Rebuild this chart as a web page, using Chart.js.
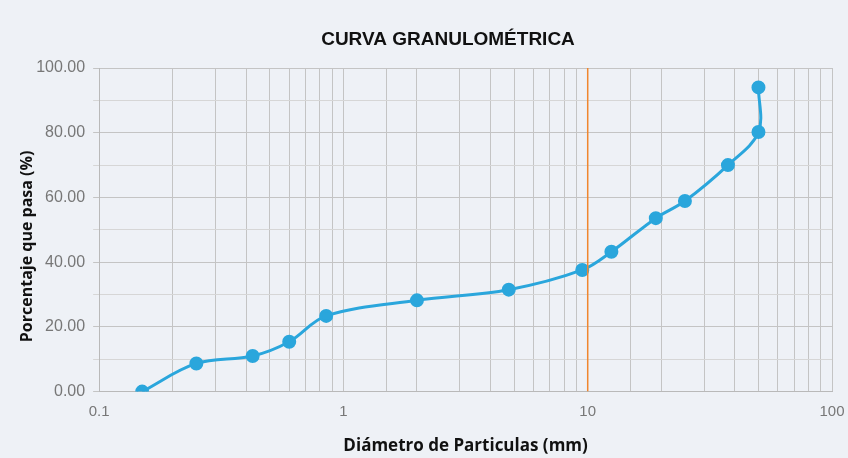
<!DOCTYPE html>
<html>
<head>
<meta charset="utf-8">
<script src="https://cdn.jsdelivr.net/npm/chart.js@4.4.1/dist/chart.umd.min.js"></script>
<style>
  html, body { margin: 0; padding: 0; background: #eef1f6; }
  #wrap { width: 848px; height: 458px; }
</style>
</head>
<body>
<div id="wrap"><canvas id="granChart" width="848" height="458"></canvas></div>
<script>
// sieve openings (mm) and percent passing
const diameters = [0.15, 0.25, 0.425, 0.6, 0.85, 2.0, 4.75, 9.5, 12.5, 19.0, 25.0, 37.5, 50.0, 50.0];
const passing   = [0.0, 8.7, 11.0, 15.4, 23.4, 28.2, 31.5, 37.6, 43.2, 53.6, 58.9, 70.0, 80.2, 94.0];
const markerLine = [10, 10];        // vertical reference at 10 mm
const markerY = [0, 100];
const chartTitle = 'CURVA GRANULOMÉTRICA';

const blue = '#2aa6dc';
const orange = '#f0862e';

const curve = diameters.map((d, i) => ({ x: d, y: passing[i] }));
const marker = markerLine.map((d, i) => ({ x: d, y: markerY[i] }));

// title sits a bit left of the plot centre in the original, draw it ourselves
const titlePlugin = {
  id: 'titleText',
  afterDraw(chart) {
    const c = chart.ctx;
    c.save();
    c.font = 'bold 19px "Liberation Sans"';
    c.fillStyle = '#111';
    c.textAlign = 'center';
    c.textBaseline = 'middle';
    c.fillText(chartTitle, 448, 40);
    c.restore();
  }
};

const ctx = document.getElementById('granChart').getContext('2d');
new Chart(ctx, {
  type: 'line',
  data: {
    datasets: [
      { label: 'marker', data: marker, borderColor: orange, borderWidth: 1.5, pointRadius: 0, tension: 0 },
      { label: 'curva', data: curve, borderColor: blue, backgroundColor: blue, borderWidth: 3,
        pointRadius: 5.5, pointBackgroundColor: blue, pointBorderColor: blue, tension: 0.35, fill: false }
    ]
  },
  plugins: [titlePlugin],
  options: {
    responsive: false,
    animation: false,
    layout: { padding: { left: 14, right: 0, top: 68, bottom: 0 } },
    plugins: {
      legend: { display: false },
      tooltip: { enabled: false },
      title: { display: false }
    },
    scales: {
      x: {
        type: 'logarithmic', min: 0.1, max: 100,
        afterFit: s => { s.paddingRight = 16; },
        border: { color: '#b9b9b9' },
        grid: { color: '#c4c4c4', lineWidth: 1, drawTicks: false },
        ticks: {
          autoSkip: false, maxRotation: 0, color: '#777', padding: 11,
          font: { family: 'Liberation Sans', size: 15 },
          callback: function (v) {
            const l = Math.log10(v);
            return Math.abs(l - Math.round(l)) < 1e-9 ? String(v) : '';
          }
        },
        title: { display: true, text: 'Diámetro de Particulas (mm)', color: '#111',
          font: { family: 'Open Sans', size: 17, weight: 'bold' }, padding: { top: 4, bottom: 2 } }
      },
      y: {
        min: 0, max: 100,
        border: { color: '#b9b9b9' },
        grid: { color: ctx => (ctx.tick && ctx.tick.value % 20 === 0) ? '#c4c4c4' : '#d6d6d6', drawTicks: true, tickLength: 6 },
        ticks: {
          stepSize: 10, color: '#777', padding: 8,
          font: { family: 'Liberation Sans', size: 16 },
          callback: v => v % 20 === 0 ? v.toFixed(2) : ''
        },
        title: { display: true, text: 'Porcentaje que pasa (%)        ', color: '#111',
          font: { family: 'Open Sans', size: 16, weight: 'bold' }, padding: { top: 4, bottom: -9 } }
      }
    }
  }
});
</script>
</body>
</html>
